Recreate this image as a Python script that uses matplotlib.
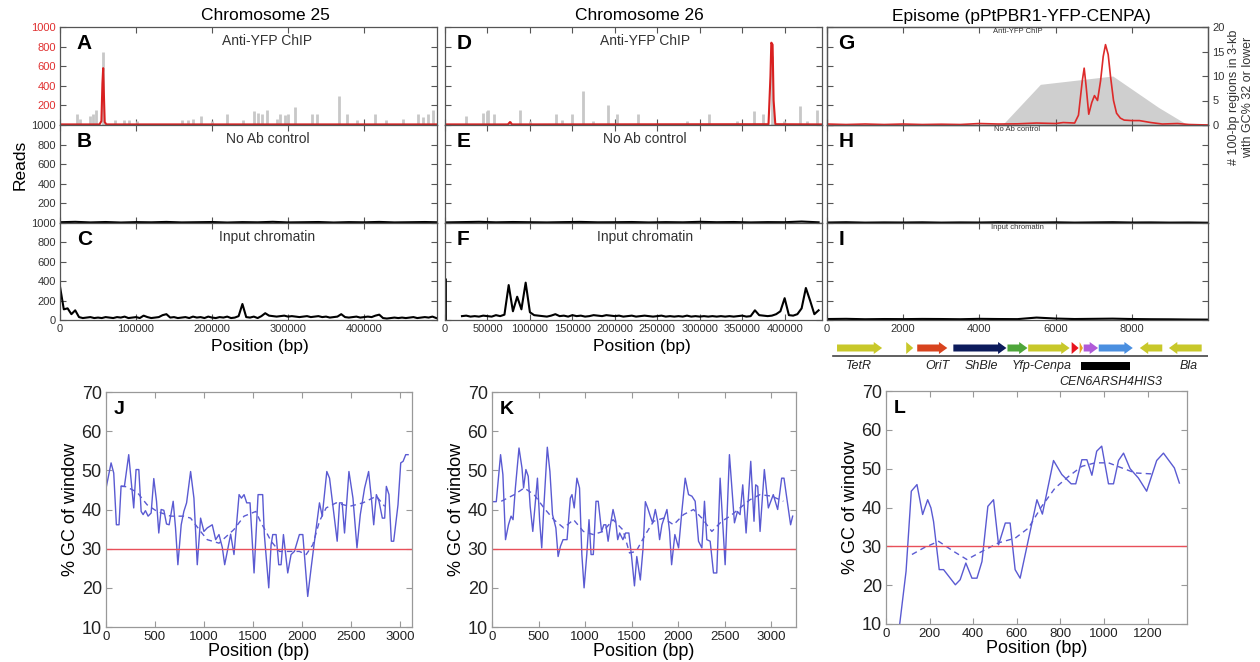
import numpy as np
import matplotlib
matplotlib.use('Agg')
import matplotlib.pyplot as plt

plt.rcParams['font.family'] = ['Liberation Sans', 'DejaVu Sans']

# ---------------- data: ChIP-seq read profiles (reads) ----------------
# chromosome 25
chr25_gray_pos = [22800, 26300, 39500, 43800, 47400, 57000, 72400, 84200, 91200, 100900,
                  160000, 168900, 175400, 185100, 199600, 220200, 241200, 255300, 260900, 265300,
                  271900, 285100, 289500, 296100, 300400, 309200, 331100, 337700, 367500, 377200,
                  390400, 414500, 429000, 451800, 471500, 478100, 484700, 490400]
chr25_gray_val = [108, 57, 91, 108, 152, 750, 50, 50, 50, 40,
                  50, 50, 57, 91, 40, 108, 50, 141, 125, 108,
                  158, 57, 108, 98, 108, 185, 108, 108, 300, 108,
                  50, 108, 50, 57, 108, 84, 108, 158]
chr25_red_pos = [0, 52000, 54500, 55800, 56800, 57600, 58800, 61000, 496000]
chr25_red_val = [6, 6, 40, 420, 580, 350, 30, 6, 6]
chr25_noab = [8, 12, 6, 10, 5, 9, 7, 11, 6, 8, 10, 5, 9, 7, 12, 6, 8, 10, 5, 9, 7, 11, 6, 8, 10, 7]
chr25_input = [345, 110, 120, 60, 100, 30, 20, 25, 30, 20,
               25, 20, 30, 25, 20, 30, 25, 35, 20, 25,
               30, 20, 45, 30, 20, 25, 30, 50, 60, 25,
               30, 20, 25, 30, 20, 35, 25, 30, 20, 35,
               25, 20, 30, 25, 35, 20, 25, 40, 165, 30,
               25, 35, 20, 40, 70, 45, 40, 35, 40, 45,
               35, 40, 35, 30, 35, 40, 30, 35, 40, 30,
               35, 25, 30, 35, 60, 30, 25, 30, 35, 25,
               30, 35, 30, 45, 55, 20, 15, 20, 25, 20,
               25, 20, 25, 30, 20, 25, 30, 25, 35, 20]

# chromosome 26
chr26_gray_pos = [24700, 45100, 49000, 51000, 57700, 76600, 88300, 100100, 130700, 137400,
                  149200, 162100, 174700, 192400, 202200, 227700, 284700, 311400, 343600, 364400,
                  375000, 385000, 398900, 417700, 426400, 438200]
chr26_gray_val = [91, 125, 141, 158, 108, 40, 152, 40, 108, 50,
                  108, 344, 40, 209, 108, 108, 40, 108, 40, 141,
                  108, 700, 40, 192, 40, 148]
chr26_red_pos = [0, 74000, 76600, 79000, 381000, 383300, 384300, 385800, 387000, 389000, 444000]
chr26_red_val = [6, 6, 30, 6, 8, 500, 840, 820, 250, 8, 6]
chr26_noab = [6, 9, 12, 7, 10, 8, 6, 9, 11, 7, 8, 10, 6, 9, 7, 12, 8, 10, 6, 9, 8, 15, 7]
chr26_input = [40, 45, 35, 40, 35, 45, 40, 35, 50, 40,
               55, 360, 90, 240, 110, 385, 80, 50, 45, 40,
               35, 45, 60, 40, 45, 35, 50, 40, 45, 35,
               40, 50, 45, 40, 50, 45, 40, 45, 35, 40,
               45, 35, 40, 45, 40, 35, 40, 45, 35, 40,
               35, 40, 35, 45, 35, 40, 35, 40, 35, 40,
               35, 40, 35, 40, 35, 40, 45, 35, 40, 100,
               50, 45, 40, 45, 60, 90, 225, 50, 45, 60,
               120, 330, 200, 60, 100]
chr26_edge_pos = [0]
chr26_edge_val = [430]

# episome
epi_red_pos = [0, 500, 1000, 1500, 2000, 2500, 3000, 3500, 4000, 4500, 5000, 5500, 6000, 6200,
               6500, 6600, 6700, 6750, 6800, 6870, 6950, 7020, 7100, 7180, 7250, 7310, 7380,
               7440, 7520, 7600, 7700, 7800, 8000, 8200, 8500, 8800, 9200, 9500, 10000]
epi_red_val = [10, 5, 10, 5, 10, 5, 8, 5, 15, 10, 12, 20, 15, 25,
               20, 100, 450, 580, 400, 110, 230, 300, 250, 450, 700, 820, 720,
               500, 250, 120, 70, 50, 45, 45, 25, 10, 15, 5, 0]
epi_gc_pos = [4600, 5600, 7500, 8700, 9470]
epi_gc_val = [0, 8.3, 10, 3.6, 0]
epi_noab = [5, 8, 4, 6, 5, 7, 4, 6, 5, 8, 6, 5, 7, 4, 6, 8, 5, 6, 4, 5, 3]
epi_input = [10, 12, 8, 10, 9, 11, 10, 8, 12, 10, 9, 25, 15, 10, 12, 14, 10, 8, 7, 5, 4]

# plasmid map
gene_start = [263, 2079, 2368, 3316, 4737, 5280, 6421, 6631, 6737, 7132, 8800, 9834]
gene_end = [1447, 2263, 3158, 4710, 5263, 6368, 6605, 6716, 7115, 8026, 8210, 8974]
gene_color = ['#c8c82a', '#c8c82a', '#d8431e', '#0c1b5c', '#4ea63a', '#c8c82a',
              '#e8141e', '#e8a020', '#b05ad8', '#4a8fe0', '#c8c82a', '#c8c82a']
gene_names = ['TetR', 'OriT', 'ShBle', 'Yfp-Cenpa', 'Bla']
gene_name_pos = [842, 2895, 4053, 5632, 9500]
cen_start, cen_end, cen_label_pos = 6658, 7947, 7447

# ---------------- data: GC content windows ----------------
j_x = [5, 52, 79, 106, 133, 154, 188, 232, 283, 307, 335, 359, 379, 403, 430, 461, 488, 516, 539, 563,
       591, 618, 645, 686, 710, 734, 768, 795, 823, 864, 898, 932, 966, 1000, 1034, 1085, 1120, 1154,
       1188, 1212, 1246, 1273, 1307, 1359, 1383, 1410, 1437, 1471, 1512, 1553, 1600, 1617, 1662, 1686,
       1703, 1737, 1764, 1788, 1812, 1856, 1890, 1924, 1975, 2010, 2060, 2095, 2129, 2180, 2208, 2255,
       2283, 2361, 2385, 2412, 2436, 2481, 2522, 2563, 2597, 2641, 2682, 2710, 2734, 2761, 2788, 2822,
       2846, 2863, 2890, 2914, 2938, 2982, 3010, 3034, 3061, 3085]
j_y = [46, 51.9, 49.3, 36.1, 36.1, 45.9, 45.9, 54, 40.4, 50.2, 50.2, 39.5, 38.7, 39.7, 38.3, 39.1, 47.9,
       42.1, 34, 40, 39.8, 36.3, 36.1, 42.1, 35.3, 25.9, 36.1, 39.5, 41.7, 49.7, 42.9, 25.9, 37.8, 34.4,
       35.3, 36.1, 32.3, 33.6, 30.3, 25.9, 30.2, 33.7, 28.5, 43.8, 42.9, 43.8, 41.7, 41.7, 23.8, 43.8,
       43.8, 33.6, 20, 31, 33.6, 33.6, 25.9, 25.9, 33.6, 23.8, 28.5, 29.3, 33.6, 33.6, 17.8, 25.1, 31.9,
       41.7, 38.3, 49.7, 48, 31.9, 41.7, 41.7, 34, 49.7, 42.9, 30.2, 38.7, 45.5, 49.7, 42.9, 36.1, 43.8,
       42.1, 37.8, 37.8, 45.9, 43.8, 31.9, 31.9, 41.2, 51.9, 52.3, 54, 54]
j_sx = [150, 209, 318, 420, 522, 659, 795, 864, 966, 1034, 1154, 1307, 1410, 1530, 1583, 1634, 1686,
        1771, 1873, 1975, 2044, 2112, 2180, 2248, 2351, 2487, 2624, 2761, 2846]
j_sy = [46, 45.8, 44.4, 41.2, 39.5, 38.3, 38.3, 37.8, 34.4, 32.3, 31.4, 34.9, 38.3, 39.5, 36.6, 34.4,
        31.9, 29.3, 29.3, 29.3, 28.5, 31, 37, 40.4, 41.7, 40.8, 41.7, 43.4, 40.8]

k_x = [0, 46, 92, 117, 145, 177, 205, 226, 251, 290, 322, 339, 364, 389, 410, 438, 488, 512, 534, 558,
       594, 622, 650, 686, 710, 735, 763, 806, 841, 859, 883, 912, 940, 965, 989, 1018, 1042, 1064,
       1088, 1117, 1141, 1177, 1201, 1223, 1247, 1272, 1300, 1329, 1350, 1371, 1406, 1435, 1470, 1499,
       1530, 1555, 1593, 1622, 1647, 1672, 1700, 1725, 1754, 1779, 1800, 1825, 1879, 1907, 1929, 1964,
       2004, 2039, 2075, 2111, 2147, 2182, 2218, 2254, 2282, 2307, 2343, 2379, 2414, 2450, 2504, 2550,
       2604, 2636, 2664, 2693, 2729, 2779, 2814, 2832, 2854, 2879, 2925, 2968, 3021, 3068, 3111, 3136,
       3171, 3207, 3229]
k_y = [42, 42, 54, 48.9, 32.3, 36.1, 38.3, 37.4, 45.5, 55.7, 50.6, 45.5, 50.2, 48.5, 40.8, 34.4, 48,
       37, 30.2, 41.2, 55.9, 49.7, 38.7, 35.3, 28, 30.6, 32.3, 32.3, 42.9, 43.8, 40.4, 48, 45.5, 28.5,
       20, 28.5, 37.4, 28.5, 28.5, 42.1, 42.1, 34.4, 36.1, 36.1, 31.9, 36.1, 40, 37, 32.3, 34, 32.3,
       34, 34, 28, 20.5, 28, 22, 30, 42, 40.4, 38.3, 36.6, 40, 37, 32.3, 36.1, 40, 34.4, 25.9, 33.6,
       30.2, 39.5, 48, 43.8, 43.4, 42.1, 31.9, 30.2, 42.1, 32.3, 31.9, 23.8, 23.8, 48, 25.9, 54, 36.6,
       39.5, 38.7, 46.3, 34, 52.3, 37, 46.3, 45.9, 34.4, 50.2, 40.4, 43.8, 40, 48, 48, 42.1, 36.1, 38.3]
k_sx = [99, 240, 346, 452, 558, 664, 770, 876, 982, 1088, 1194, 1300, 1406, 1477, 1548, 1647, 1736,
        1843, 1950, 2057, 2164, 2254, 2361, 2468, 2557, 2664, 2771, 2879, 3004, 3129]
k_sy = [42.1, 43.8, 45.5, 43.8, 40.4, 37.4, 35.3, 37.4, 34.4, 33.6, 34.4, 37.4, 34.8, 28.9, 29.3,
        33.6, 37, 37.8, 36.1, 38.7, 40, 37.8, 34.4, 37, 38.3, 40.4, 42.5, 43.8, 43.4, 42.1]

l_x = [50, 92, 116, 142, 168, 191, 206, 218, 244, 264, 318, 340, 366, 394, 417, 440, 467, 493, 516,
       547, 569, 592, 615, 692, 717, 768, 806, 849, 870, 898, 921, 944, 966, 989, 1020, 1043, 1066,
       1089, 1119, 1157, 1195, 1241, 1272, 1322, 1345]
l_y = [4, 23.6, 44.2, 45.9, 38.2, 42, 39.9, 36.4, 24, 24, 20.1, 21.4, 25.7, 21.8, 21.8, 26.1, 40.3,
       42, 30.4, 36, 36, 24, 21.8, 42, 38.3, 52.1, 48.5, 46.1, 46.1, 52.3, 52.3, 48.3, 54.5, 55.8,
       46.1, 46.1, 52.1, 54, 50, 47.6, 44.2, 52.1, 54, 50.2, 46.3]
l_sx = [119, 173, 241, 310, 371, 440, 516, 592, 653, 714, 775, 837, 898, 959, 1020, 1081, 1142, 1234]
l_sy = [27.9, 29.6, 31.3, 28.7, 26.6, 28.7, 30.9, 32.1, 34.7, 40.3, 45, 48, 50.6, 51.5, 51.5, 50.2,
        48.9, 48.6]
gc_cutoff = 30

# ---------------- layout ----------------
W, H = 1260, 662
fig = plt.figure(figsize=(W / 100, H / 100), dpi=100)


def add_ax(left, top, right, bottom):
    return fig.add_axes([left / W, 1 - bottom / H, (right - left) / W, (bottom - top) / H])


def style(ax, edge='#555555', label='#333333', size=8):
    for s in ax.spines.values():
        s.set_color(edge)
        s.set_linewidth(0.9)
    ax.tick_params(direction='in', top=True, right=True, colors=edge, labelcolor=label,
                   length=4, width=0.8, labelsize=size, pad=3)


rows = [27, 125, 223, 320]
cols = [(60, 437, 496000, np.arange(0, 400001, 100000)),
        (445, 822, 444000, np.arange(0, 400001, 50000)),
        (827, 1208, 10000, np.arange(0, 8001, 2000))]

RED = '#d92020'
GRAY = '#c8c8c8'
axes = {}
for c, (x0, x1, xmax, xt) in enumerate(cols):
    for r in range(3):
        ax = add_ax(x0, rows[r], x1, rows[r + 1])
        style(ax)
        ax.set_xlim(0, xmax)
        ax.set_ylim(0, 1000)
        ax.set_xticks(xt)
        ax.set_yticks(range(0, 1001, 200))
        if r < 2:
            ax.set_xticklabels([])
        if c > 0:
            ax.set_yticklabels([])
        elif r < 2:
            ax.set_yticklabels([''] + [str(v) for v in range(200, 1001, 200)])
        axes[(r, c)] = ax

letters = [['A', 'D', 'G'], ['B', 'E', 'H'], ['C', 'F', 'I']]
names = ['Anti-YFP ChIP', 'No Ab control', 'Input chromatin']
for r in range(3):
    for c in range(3):
        ax = axes[(r, c)]
        ax.text(0.045 if c == 0 else 0.03, 0.93, letters[r][c], transform=ax.transAxes,
                fontsize=15, fontweight='bold', va='top', ha='left')
        if c < 2:
            ax.text(0.55 if c == 0 else 0.53, 0.86, names[r], transform=ax.transAxes,
                    fontsize=10, color='#333333', ha='center', va='center')
        else:
            ax.text(0.5, 0.95, names[r], transform=ax.transAxes,
                    fontsize=5.5, color='#333333', ha='center', va='center')

axes[(0, 0)].tick_params(axis='y', labelcolor='#e03030')

# chromosome 25
ax = axes[(0, 0)]
ax.vlines(chr25_gray_pos, 0, chr25_gray_val, color=GRAY, lw=2)
ax.plot(chr25_red_pos, chr25_red_val, color=RED, lw=1.5)
ax = axes[(1, 0)]
ax.plot(np.arange(len(chr25_noab)) * 20000, chr25_noab, color='k', lw=1.5)
ax = axes[(2, 0)]
ax.plot(np.arange(len(chr25_input)) * 5000, chr25_input, color='k', lw=1.5)

# chromosome 26
ax = axes[(0, 1)]
ax.vlines(chr26_gray_pos, 0, chr26_gray_val, color=GRAY, lw=2)
ax.plot(chr26_red_pos, chr26_red_val, color=RED, lw=1.5)
ax = axes[(1, 1)]
ax.plot(np.arange(len(chr26_noab)) * 20000, chr26_noab, color='k', lw=1.5)
ax = axes[(2, 1)]
ax.plot(20000 + np.arange(len(chr26_input)) * 5000, chr26_input, color='k', lw=1.5)
ax.vlines(chr26_edge_pos, 0, chr26_edge_val, color='k', lw=2)

# episome
ax = axes[(0, 2)]
tw = ax.twinx()
tw.fill_between(epi_gc_pos, 0, epi_gc_val, color='#cfcfcf', lw=0)
tw.set_ylim(0, 20)
tw.set_yticks(range(0, 21, 5))
style(tw)
tw.tick_params(left=False, top=False)
ax.tick_params(right=False)
ax.set_zorder(tw.get_zorder() + 1)
ax.patch.set_visible(False)
ax.plot(epi_red_pos, epi_red_val, color='#dd2a2a', lw=1.2)
axes[(1, 2)].plot(np.arange(len(epi_noab)) * 500, epi_noab, color='k', lw=1.5)
axes[(2, 2)].plot(np.arange(len(epi_input)) * 500, epi_input, color='k', lw=1.5)

fig.text(1241 / W, 1 - 97 / H, '# 100-bp regions in 3-kb\nwith GC% 32 or lower', rotation=90,
         fontsize=9, ha='center', va='center', multialignment='center', color='#333333')

# titles and shared labels
for xc, t in [(265, 'Chromosome 25'), (639, 'Chromosome 26'), (1021, 'Episome (pPtPBR1-YFP-CENPA)')]:
    fig.text(xc / W, 1 - 16 / H, t, fontsize=12.5, ha='center', va='center')
fig.text(20 / W, 1 - 165 / H, 'Reads', rotation=90, fontsize=12.5, ha='center', va='center')
for xc in (260, 642):
    fig.text(xc / W, 1 - 347 / H, 'Position (bp)', fontsize=12.5, ha='center', va='center')

# plasmid map
am = add_ax(827, 338, 1208, 390)
am.set_xlim(0, 10000)
am.set_ylim(52, 0)
am.axis('off')
for s, e, col in zip(gene_start, gene_end, gene_color):
    length = e - s
    am.arrow(s, 10, length, 0, width=7, head_width=12, head_length=min(220, abs(length)),
             length_includes_head=True, color=col, lw=0)
am.axhline(18, xmin=0.015, xmax=1.0, color='#444444', lw=1.2)
for name, pos in zip(gene_names, gene_name_pos):
    am.text(pos, 28, name, style='italic', fontsize=9, ha='center', va='center', color='#222222')
am.fill_between([cen_start, cen_end], 24, 32, color='k', lw=0)
am.text(cen_label_pos, 44, 'CEN6ARSH4HIS3', style='italic', fontsize=9, ha='center', va='center',
        color='#222222')

# GC panels
BLUE = '#5a5ad2'
gc_panels = [((106, 392, 412, 627), 'J', j_x, j_y, j_sx, j_sy, 3125, np.arange(0, 3001, 500)),
             ((492, 392, 796, 627), 'K', k_x, k_y, k_sx, k_sy, 3265, np.arange(0, 3001, 500)),
             ((886, 391, 1187, 624), 'L', l_x, l_y, l_sx, l_sy, 1380, np.arange(0, 1201, 200))]
for box, letter, x, y, sx, sy, xmax, xt in gc_panels:
    ax = add_ax(*box)
    style(ax, edge='#999999', label='#222222', size=9.5)
    ax.tick_params(axis='y', labelsize=13)
    ax.plot(x, y, color=BLUE, lw=1.0)
    ax.plot(sx, sy, color=BLUE, lw=1.0, dashes=(4, 3))
    ax.axhline(gc_cutoff, color='#e8505a', lw=1.0)
    ax.set_xlim(0, xmax)
    ax.set_ylim(10, 70)
    ax.set_xticks(xt)
    ax.set_yticks(range(10, 71, 10))
    ax.set_xlabel('Position (bp)', fontsize=13, labelpad=0)
    ax.set_ylabel('% GC of window', fontsize=13, labelpad=2)
    ax.text(0.025, 0.96, letter, transform=ax.transAxes, fontsize=14, fontweight='bold',
            va='top', ha='left')

fig.savefig('out.png', dpi=100)
